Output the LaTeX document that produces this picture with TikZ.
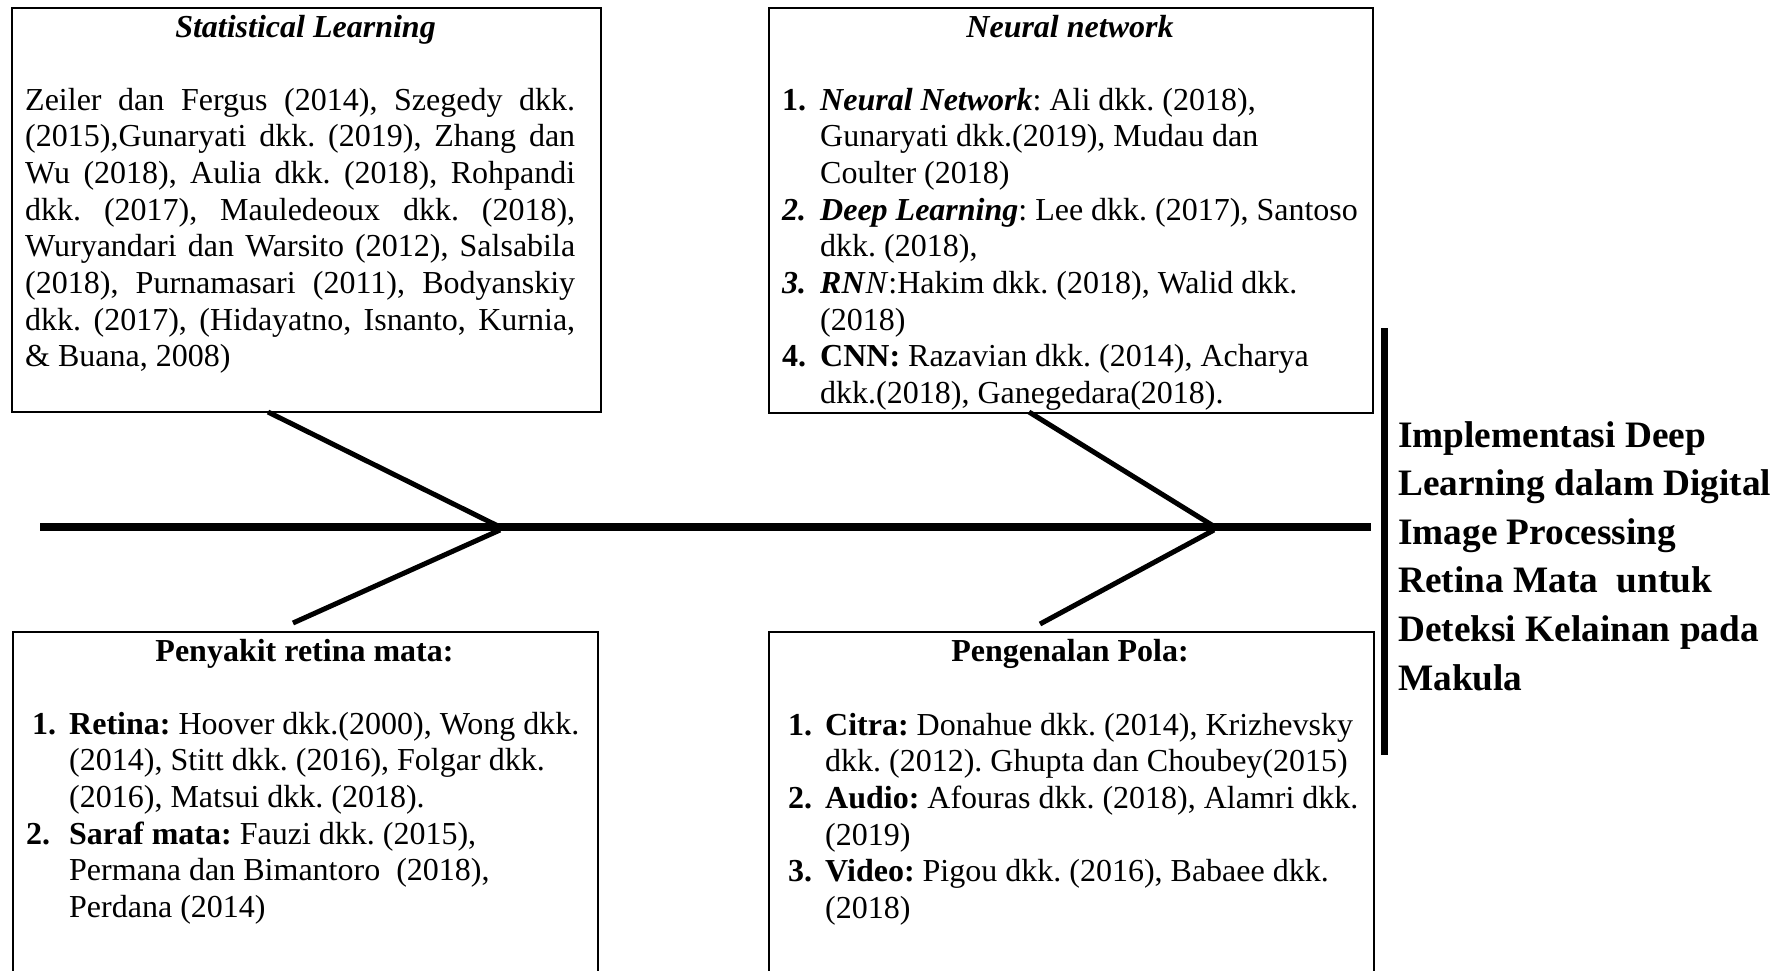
\documentclass[tikz,border=0pt]{standalone}
\usepackage{fontspec}
\setmainfont{Liberation Serif}
\newlength\fbind
\newcommand\fbbody{\fontsize{32}{36.7}\selectfont\frenchspacing}
\newcommand\fbhead{\fontsize{37.3}{48.6}\selectfont\bfseries}
\newcommand\jline[1]{\makebox[550pt][s]{#1}\\}
\newcommand\fbitem[2]{\makebox[\fbind][l]{#1}#2}
\newcommand\fbcont[1]{\hspace*{\fbind}#1}
\begin{document}
\begin{tikzpicture}[x=1pt,y=-1pt,
  frame/.style={draw, line width=1.8pt, anchor=north west, inner sep=0pt},
  bone/.style={line width=5pt},
  spine/.style={line width=8pt},
  txt/.style={anchor=base west, inner sep=0pt},
  ttl/.style={anchor=base, inner sep=0pt}]
\useasboundingbox (0,0) rectangle (1784,970);
\clip (0,0) rectangle (1784,970);

% category frames
\node[frame, minimum width=589pt, minimum height=404pt] (sl) at (11,7) {};
\node[frame, minimum width=604pt, minimum height=405pt] (nn) at (768,7) {};
\node[frame, minimum width=585pt, minimum height=400pt] (pr) at (12,631) {};
\node[frame, minimum width=605pt, minimum height=400pt] (pp) at (768,631) {};

% Statistical Learning
\node[ttl] (slt) at (305.5,37) {\fbbody\bfseries\itshape Statistical Learning};
\node[txt] (slb) at (25,110) {\parbox[t]{560pt}{\fbbody
  \jline{Zeiler dan Fergus (2014), Szegedy dkk.}
  \jline{(2015),Gunaryati dkk. (2019), Zhang dan}
  \jline{Wu (2018), Aulia dkk. (2018), Rohpandi}
  \jline{dkk. (2017), Mauledeoux dkk. (2018),}
  \jline{Wuryandari dan Warsito (2012), Salsabila}
  \jline{(2018), Purnamasari (2011), Bodyanskiy}
  \jline{dkk. (2017), (Hidayatno, Isnanto, Kurnia,}
  \& Buana, 2008)}};

% Neural network
\node[ttl] (nnt) at (1070,37) {\fbbody\bfseries\itshape Neural network};
\node[txt] (nnb) at (782,110) {\parbox[t]{620pt}{\fbbody\raggedright\setlength\fbind{38pt}%
  \fbitem{\textbf{1.}}{\textbf{\textit{Neural Network}}: Ali dkk. (2018),}\\
  \fbcont{Gunaryati dkk.(2019), Mudau dan}\\
  \fbcont{Coulter (2018)}\\
  \fbitem{\textbf{\textit{2.}}}{\textbf{\textit{Deep Learning}}: Lee dkk. (2017), Santoso}\\
  \fbcont{dkk. (2018),}\\
  \fbitem{\textbf{\textit{3.}}}{\textbf{\textit{RN}}\textit{N}:Hakim dkk. (2018), Walid dkk.}\\
  \fbcont{(2018)}\\
  \fbitem{\textbf{4.}}{\textbf{CNN:} Razavian dkk. (2014), Acharya}\\
  \fbcont{dkk.(2018), Ganegedara(2018).}}};

% Penyakit retina mata
\node[ttl] (prt) at (304.5,661) {\fbbody\bfseries Penyakit retina mata:};
\node[txt] (prb) at (26,734) {\parbox[t]{600pt}{\fbbody\raggedright\setlength\fbind{43pt}%
  \fbitem{\hspace*{6pt}\textbf{1.}}{\textbf{Retina:} Hoover dkk.(2000), Wong dkk.}\\
  \fbcont{(2014), Stitt dkk. (2016), Folgar dkk.}\\
  \fbcont{(2016), Matsui dkk. (2018).}\\
  \fbitem{\textbf{2.}}{\textbf{Saraf mata:} Fauzi dkk. (2015),}\\
  \fbcont{Permana dan Bimantoro\ \ (2018),}\\
  \fbcont{Perdana (2014)}}};

% Pengenalan Pola
\node[ttl] (ppt) at (1070,661) {\fbbody\bfseries Pengenalan Pola:};
\node[txt] (ppb) at (788,735) {\parbox[t]{600pt}{\fbbody\raggedright\setlength\fbind{37pt}%
  \fbitem{\textbf{1.}}{\textbf{Citra:} Donahue dkk. (2014), Krizhevsky}\\
  \fbcont{dkk. (2012). Ghupta dan Choubey(2015)}\\
  \fbitem{\textbf{2.}}{\textbf{Audio:} Afouras dkk. (2018), Alamri dkk.}\\
  \fbcont{(2019)}\\
  \fbitem{\textbf{3.}}{\textbf{Video:} Pigou dkk. (2016), Babaee dkk.}\\
  \fbcont{(2018)}}};

% effect (head of the fishbone)
\coordinate (bartop) at (1384,328);
\coordinate (barbot) at (1384,755);
\draw[line width=7pt] (bartop) -- (barbot);
\node[txt] (goal) at (1398,447) {\parbox[t]{390pt}{\fbhead\raggedright
  Implementasi Deep\\
  Learning dalam Digital\\
  Image Processing\\
  Retina Mata\ \ untuk\\
  Deteksi Kelainan pada\\
  Makula}};

% spine and bones
\coordinate (tail) at (40,527);
\coordinate (head) at (1371,527);
\coordinate (j1) at (500,527);
\coordinate (j2) at (1215,527);
\coordinate (j1b) at (500,530);
\coordinate (j2b) at (1214,530);
\coordinate (slfoot) at (268,412);
\coordinate (nnfoot) at (1029,412);
\coordinate (prfoot) at (293,623);
\coordinate (ppfoot) at (1040,624);
\draw[spine] (tail) -- (head);
\draw[bone] (slfoot) -- (j1);
\draw[bone] (j1b) -- (prfoot);
\draw[bone] (nnfoot) -- (j2);
\draw[bone] (j2b) -- (ppfoot);
\end{tikzpicture}
\end{document}
